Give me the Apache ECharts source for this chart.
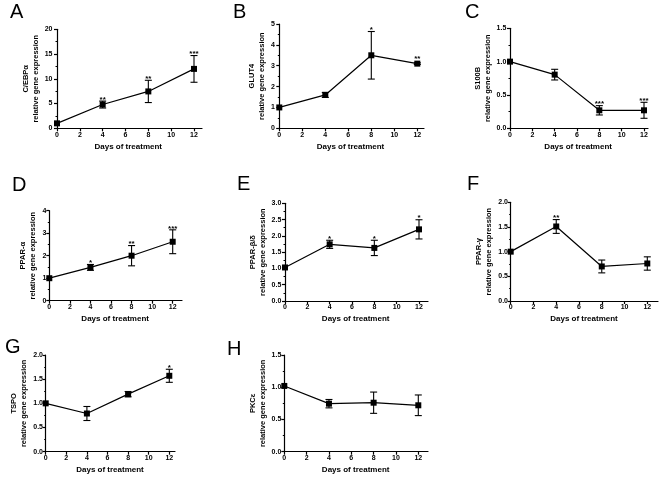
<!DOCTYPE html>
<html><head><meta charset="utf-8">
<script src="https://cdn.jsdelivr.net/npm/echarts@6/dist/echarts.min.js"></script>
<style>html,body{margin:0;padding:0;background:#fff}#c{width:661px;height:477px}</style>
</head><body><div id="c"></div>
<script>
// ---- data ----
const days = [0, 4, 8, 12];
const xTickValues = [0, 2, 4, 6, 8, 10, 12];
const xAxisTitle = 'Days of treatment';
const yAxisSubtitle = 'relative gene expression';
const panelLetters = ['A', 'B', 'C', 'D', 'E', 'F', 'G', 'H'];
const geneNames = ['C/EBPα', 'GLUT4', 'S100B', 'PPAR-α', 'PPAR-β/δ', 'PPAR-γ', 'TSPO', 'PKCε'];

const meanA = [1.0, 4.8, 7.45, 12.0];  const errA = [0, 0.7, 2.25, 2.7];   const sigA = ['', '**', '**', '***'];
const meanB = [1.0, 1.6, 3.5, 3.1];    const errB = [0, 0.12, 1.14, 0.04]; const sigB = ['', '', '*', '**'];
const meanC = [1.0, 0.805, 0.27, 0.27]; const errC = [0, 0.08, 0.07, 0.12]; const sigC = ['', '', '***', '***'];
const meanD = [1.0, 1.48, 2.0, 2.62];  const errD = [0, 0.13, 0.45, 0.53]; const sigD = ['', '*', '**', '***'];
const meanE = [1.03, 1.74, 1.63, 2.2]; const errE = [0, 0.125, 0.235, 0.295]; const sigE = ['', '*', '*', '*'];
const meanF = [1.0, 1.51, 0.70, 0.76]; const errF = [0, 0.14, 0.13, 0.135]; const sigF = ['', '**', '', ''];
const meanG = [1.0, 0.79, 1.19, 1.57]; const errG = [0, 0.145, 0.055, 0.135]; const sigG = ['', '', '', '*'];
const meanH = [1.02, 0.745, 0.76, 0.72]; const errH = [0, 0.065, 0.165, 0.16]; const sigH = ['', '', '', ''];

const yMax  = [20, 5, 1.5, 4, 3, 2, 2, 1.5];
const yStep = [5, 1, 0.5, 1, 0.5, 0.5, 0.5, 0.5];
const yDecimals = [0, 0, 1, 0, 1, 1, 1, 1];

const means = [meanA, meanB, meanC, meanD, meanE, meanF, meanG, meanH];
const errs  = [errA, errB, errC, errD, errE, errF, errG, errH];
const sigs  = [sigA, sigB, sigC, sigD, sigE, sigF, sigG, sigH];

// ---- layout (pixels) ----
const L = {
  axisX:  [54.5, 277, 508.3, 48.3, 283.3, 510, 45, 283.3],
  x0:     [57, 279.3, 510, 49.3, 285, 510.7, 45.7, 284.3],
  x12:    [194, 417.3, 644, 172.7, 419, 647.3, 169.3, 418.3],
  xEnd:   [202, 424, 648, 182, 428, 658, 175, 428],
  top:    [29.3, 24, 28.3, 210.7, 203.3, 202.3, 355, 355],
  bottom: [128.3, 128.3, 128.3, 300.7, 301, 301, 451.7, 451.7],
  yGap:   [11.5, 6, 4.5, 10.5, 14.5, 16, 13, 14.5],
  letterX:[10, 233, 465, 12, 237, 467, 5, 227],
  letterY:[2, 2, 2, 175, 174, 174, 337, 339]
};
const FONT = '"Liberation Sans", Arial, sans-serif';

const grids = [], xAxes = [], yAxes = [], series = [], graphics = [];
for (let i = 0; i < 8; i++) {
  const ppd = (L.x12[i] - L.x0[i]) / 12;
  grids.push({ left: L.axisX[i], top: L.top[i], width: L.xEnd[i] - L.axisX[i], height: L.bottom[i] - L.top[i] });
  xAxes.push({
    gridIndex: i, type: 'value',
    min: -(L.x0[i] - L.axisX[i]) / ppd, max: 12 + (L.xEnd[i] - L.x12[i]) / ppd,
    axisLine: { show: true, onZero: false, lineStyle: { color: '#000', width: 1.2 } },
    axisTick: { show: true, length: 3, customValues: xTickValues, lineStyle: { color: '#000', width: 1.2 } },
    axisLabel: { customValues: xTickValues, color: '#000', fontFamily: FONT, fontWeight: 'bold', fontSize: 7, margin: 3 },
    splitLine: { show: false },
    name: xAxisTitle, nameLocation: 'middle', nameGap: 14,
    nameTextStyle: { color: '#000', fontFamily: FONT, fontWeight: 'bold', fontSize: 8 }
  });
  const dec = yDecimals[i];
  yAxes.push({
    gridIndex: i, type: 'value', min: 0, max: yMax[i], interval: yStep[i],
    axisLine: { show: true, lineStyle: { color: '#000', width: 1.2 } },
    axisTick: { show: true, length: 3, lineStyle: { color: '#000', width: 1.2 } },
    minorTick: { show: true, splitNumber: 2, length: 1.5, lineStyle: { color: '#000', width: 1 } },
    axisLabel: { color: '#000', fontFamily: FONT, fontWeight: 'bold', fontSize: 7, margin: 2,
      formatter: v => v.toFixed(dec) },
    splitLine: { show: false },
    name: geneNames[i] + '\n' + yAxisSubtitle, nameLocation: 'middle', nameGap: L.yGap[i],
    nameTextStyle: { color: '#000', fontFamily: FONT, fontWeight: 'bold', fontSize: 7.5, lineHeight: 10, align: 'center' }
  });
  const pts = days.map((d, k) => [d, means[i][k], errs[i][k]]);
  series.push({
    type: 'line', xAxisIndex: i, yAxisIndex: i, data: pts.map(p => [p[0], p[1]]),
    symbol: 'rect', symbolSize: 6, showSymbol: true,
    itemStyle: { color: '#000' }, lineStyle: { color: '#000', width: 1.2 },
    animation: false, z: 3
  });
  const sg = sigs[i];
  series.push({
    type: 'custom', xAxisIndex: i, yAxisIndex: i, data: pts, clip: false,
    encode: { x: 0, y: 1 }, animation: false, z: 2,
    renderItem: function (params, api) {
      const x = api.value(0), m = api.value(1), e = api.value(2);
      const pc = api.coord([x, m]);
      const hi = api.coord([x, m + e]);
      const lo = api.coord([x, m - e]);
      const ch = [];
      const st = { stroke: '#000', lineWidth: 1.1 };
      if (e > 0) {
        ch.push({ type: 'line', shape: { x1: pc[0], y1: hi[1], x2: pc[0], y2: lo[1] }, style: st });
        ch.push({ type: 'line', shape: { x1: pc[0] - 3.5, y1: hi[1], x2: pc[0] + 3.5, y2: hi[1] }, style: st });
        ch.push({ type: 'line', shape: { x1: pc[0] - 3.5, y1: lo[1], x2: pc[0] + 3.5, y2: lo[1] }, style: st });
      }
      const s = sg[params.dataIndex];
      if (s) {
        const yTop = Math.min(hi[1], pc[1] - 3);
        ch.push({ type: 'text', style: { text: s, x: pc[0], y: yTop + 2.5, align: 'center', verticalAlign: 'bottom',
          font: 'bold 8px ' + FONT, fill: '#000' } });
      }
      return { type: 'group', children: ch };
    }
  });
  graphics.push({ type: 'text', left: L.letterX[i], top: L.letterY[i],
    style: { text: panelLetters[i], font: '20px ' + FONT, fill: '#000' } });
}

const chart = echarts.init(document.getElementById('c'), null, { renderer: 'canvas' });
chart.setOption({
  backgroundColor: '#fff', animation: false,
  grid: grids, xAxis: xAxes, yAxis: yAxes, series: series, graphic: graphics
});
</script>
</body></html>
